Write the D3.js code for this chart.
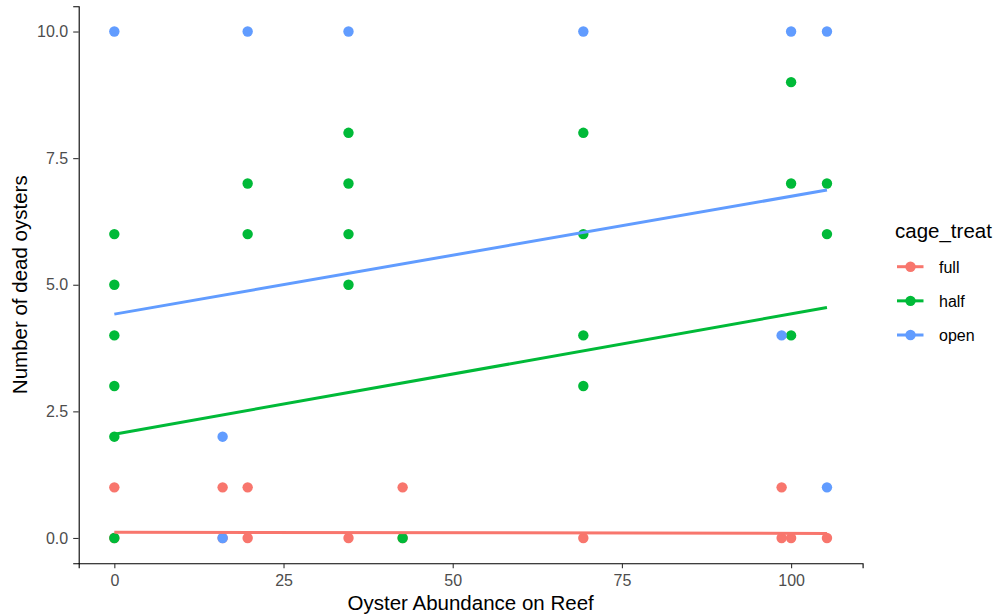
<!DOCTYPE html>
<html>
<head>
<meta charset="utf-8">
<script src="https://cdn.jsdelivr.net/npm/d3@7"></script>
<style>
  html, body { margin: 0; padding: 0; background: #fff; }
  svg { display: block; }
  text { font-family: "Liberation Sans", Arial, Helvetica, sans-serif; }
</style>
</head>
<body>
<svg id="chart" width="1000" height="616"></svg>
<script>
// ---- data ----
const groups = ["full", "half", "open"];
const groupColors = ["#F8766D", "#00BA38", "#619CFF"];

// points: [oyster abundance, dead oysters]
const fullPoints = [
  [0, 1], [0, 0], [16, 1], [16, 0], [19.7, 1], [19.7, 0], [34.6, 0],
  [42.6, 1], [42.6, 0], [69.3, 0], [98.6, 1], [98.6, 0], [100, 0], [105.3, 0]
];
const halfPoints = [
  [0, 6], [0, 5], [0, 4], [0, 3], [0, 2], [0, 0],
  [19.7, 7], [19.7, 6],
  [34.6, 8], [34.6, 7], [34.6, 6], [34.6, 5],
  [42.6, 0],
  [69.3, 8], [69.3, 6], [69.3, 4], [69.3, 3],
  [100, 9], [100, 7], [100, 4],
  [105.3, 7], [105.3, 6]
];
const openPoints = [
  [0, 10], [16, 2], [16, 0], [19.7, 10], [34.6, 10], [69.3, 10],
  [98.6, 4], [100, 10], [105.3, 10], [105.3, 1]
];

// linear fits (endpoints): [x0, y0, x1, y1]
const fullFit = [0, 0.115, 105.3, 0.09];
const halfFit = [0, 2.05, 105.3, 4.55];
const openFit = [0, 4.42, 105.3, 6.87];

const xTicks = [0, 25, 50, 75, 100];
const yTicks = [0, 2.5, 5, 7.5, 10];

const xTitle = "Oyster Abundance on Reef";
const yTitle = "Number of dead oysters";
const legendTitle = "cage_treat";

// ---- drawing ----
const svg = d3.select("#chart");
const seriesPoints = [fullPoints, halfPoints, openPoints];
const seriesFits = [fullFit, halfFit, openFit];
const color = d3.scaleOrdinal().domain(groups).range(groupColors);

const xMin = 0, xMax = 105.3, yMin = 0, yMax = 10;
const xPad = (xMax - xMin) * 0.05, yPad = (yMax - yMin) * 0.05;
const x = d3.scaleLinear().domain([xMin - xPad, xMax + xPad]).range([78.7, 862.6]);
const y = d3.scaleLinear().domain([yMin - yPad, yMax + yPad]).range([563.3, 6.2]);

// axes
const gx = svg.append("g").attr("transform", `translate(0,${y.range()[0]})`)
  .call(d3.axisBottom(x).tickValues(xTicks).tickFormat(d3.format("d"))
    .tickSizeOuter(0).tickSize(5).tickPadding(6.5));
const gy = svg.append("g").attr("transform", `translate(${x.range()[0]},0)`)
  .call(d3.axisLeft(y).tickValues(yTicks).tickFormat(d3.format(".1f"))
    .tickSizeOuter(0).tickSize(5.5).tickPadding(5));
[gx, gy].forEach(g => {
  g.select(".domain").attr("stroke", "#000").attr("stroke-width", 1.1);
  g.selectAll(".tick line").attr("stroke", "#333").attr("stroke-width", 1.1);
  g.selectAll(".tick text").attr("fill", "#4D4D4D").style("font-size", "16px")
    .style("font-family", "'Liberation Sans', Arial, sans-serif");
});

// points
groups.forEach((gname, i) => {
  svg.append("g").selectAll("circle")
    .data(seriesPoints[i]).join("circle")
    .attr("cx", d => x(d[0])).attr("cy", d => y(d[1]))
    .attr("r", 5.2).attr("fill", color(gname));
});

// fit lines
groups.forEach((gname, i) => {
  const f = seriesFits[i];
  svg.append("line")
    .attr("x1", x(f[0])).attr("y1", y(f[1]))
    .attr("x2", x(f[2])).attr("y2", y(f[3]))
    .attr("stroke", color(gname)).attr("stroke-width", 3);
});

// axis titles
svg.append("text").attr("x", (x.range()[0] + x.range()[1]) / 2).attr("y", 610)
  .attr("text-anchor", "middle").style("font-size", "20.5px").attr("fill", "#000")
  .text(xTitle);
svg.append("text").attr("transform", `translate(26.5,${(y.range()[0] + y.range()[1]) / 2}) rotate(-90)`)
  .attr("text-anchor", "middle").style("font-size", "20.5px").attr("fill", "#000")
  .text(yTitle);

// legend
const leg = svg.append("g");
leg.append("text").attr("x", 895).attr("y", 238).style("font-size", "20.5px")
  .attr("fill", "#000").text(legendTitle);
const legY = d3.scalePoint().domain(groups).range([266.7, 335]);
groups.forEach(gname => {
  const cy = legY(gname);
  leg.append("line").attr("x1", 897).attr("x2", 923.5).attr("y1", cy).attr("y2", cy)
    .attr("stroke", color(gname)).attr("stroke-width", 3);
  leg.append("circle").attr("cx", 910.5).attr("cy", cy).attr("r", 5.2).attr("fill", color(gname));
  leg.append("text").attr("x", 939).attr("y", cy + 5.8).style("font-size", "16px")
    .attr("fill", "#000").text(gname);
});
</script>
</body>
</html>
